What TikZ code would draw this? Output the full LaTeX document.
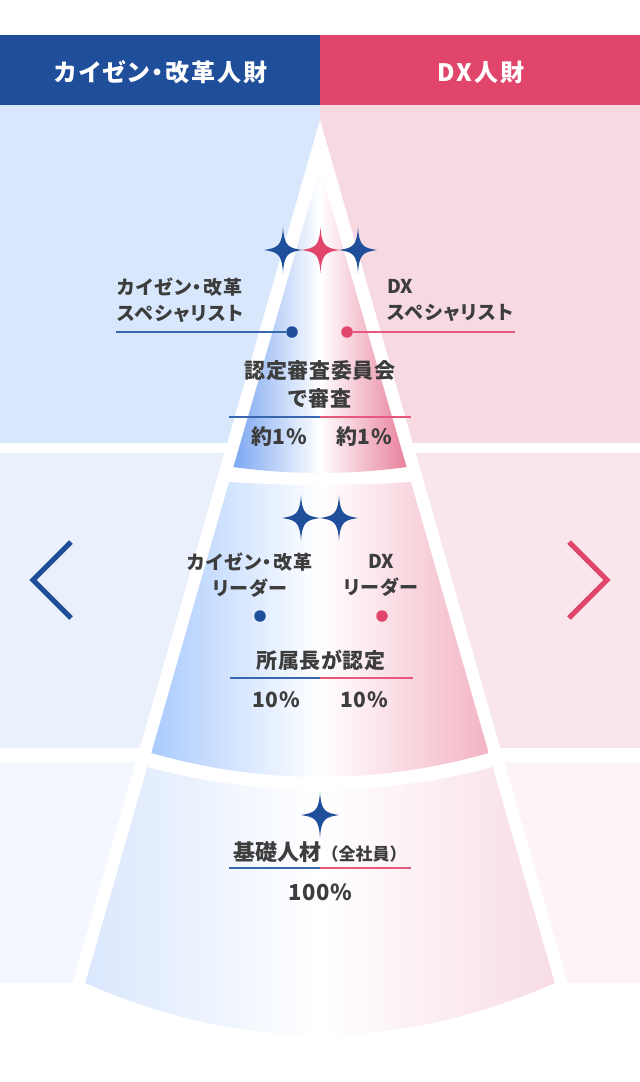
\documentclass[tikz,border=0pt]{standalone}
\usepackage{fontspec}
\newfontfamily\jph{Noto Sans CJK JP}[RawFeature=+palt, LetterSpace=8]
\newfontfamily\jpl{Noto Sans CJK JP}[RawFeature=+palt, LetterSpace=6]
\newfontfamily\jpb{Noto Sans CJK JP}[RawFeature=+palt, LetterSpace=3]
\newfontfamily\jpz{Noto Sans CJK JP}[RawFeature=+palt]
\newfontfamily\jpn{Noto Sans CJK JP}
\definecolor{hblue}{HTML}{1F4E9A}
\definecolor{hpink}{HTML}{E2456C}
\definecolor{lblue}{HTML}{3A66B0}
\definecolor{lpink}{HTML}{E8587E}
\definecolor{bgAl}{HTML}{D9E7FC}
\definecolor{bgAr}{HTML}{F7D9E1}
\definecolor{bgBl}{HTML}{EAF1FD}
\definecolor{bgBr}{HTML}{F9E6EB}
\definecolor{bgCl}{HTML}{F4F7FE}
\definecolor{bgCr}{HTML}{FCF4F6}
\definecolor{gAl}{HTML}{7CA7F2}
\definecolor{gAr}{HTML}{E8809C}
\definecolor{gBl}{HTML}{AACBFE}
\definecolor{gBr}{HTML}{F3B4C4}
\definecolor{gCl}{HTML}{DAE7FD}
\definecolor{gCr}{HTML}{F8DCE4}
\definecolor{txt}{HTML}{3D3D3D}
\tikzset{
  sparkle/.pic={
    \fill (0,-23) .. controls (1.2,-3.5) and (5.5,-2.2) .. (19,0)
      .. controls (5.5,2.2) and (1.2,3.5) .. (0,23)
      .. controls (-1.2,3.5) and (-5.5,2.2) .. (-19,0)
      .. controls (-5.5,-2.2) and (-1.2,-3.5) .. cycle;
  },
  hdr/.style={text=white, inner sep=0, font=\jph\bfseries\fontsize{24}{28}\selectfont},
  lbl/.style={text=txt, inner sep=0, font=\jpl\bfseries\fontsize{19}{26}\selectfont},
  big/.style={text=txt, inner sep=0, align=center, font=\jpb\bfseries\fontsize{21}{28}\selectfont},
  pct/.style={text=txt, inner sep=0, font=\jpb\bfseries\fontsize{21}{26}\selectfont},
  dotb/.style={circle, fill=hblue, inner sep=0, minimum size=11.5pt},
  dotp/.style={circle, fill=hpink, inner sep=0, minimum size=11.5pt},
  bl/.style={draw=lblue, line width=1.4pt},
  pl/.style={draw=lpink, line width=1.4pt},
  chev/.style={line width=5pt, line cap=butt, line join=miter},
}
\begin{document}
\begin{tikzpicture}[x=1pt,y=-1pt]
\useasboundingbox (0,0) rectangle (640,1082);
\fill[white] (0,0) rectangle (640,1082);
% tier backgrounds
\fill[bgAl] (0,105) rectangle (320,443);
\fill[bgAr] (320,105) rectangle (640,443);
\fill[bgBl] (0,453) rectangle (320,748);
\fill[bgBr] (320,453) rectangle (640,748);
\fill[bgCl] (0,762) rectangle (320,983);
\fill[bgCr] (320,762) rectangle (640,983);
% white cone
\fill[white] (320,120) -- (72.3,983) -- (567.7,983) -- cycle;
% header
\fill[hblue] (0,35) rectangle (320,105);
\fill[hpink] (320,35) rectangle (640,105);
\node[hdr] (h1) at (161,72.5) {カイゼン・改革人財};
\node[hdr] (h2) at (481,72.5) {DX人財};
% segments
\shade[left color=gAl, right color=gAr, middle color=white]
  (320,168) -- (406.6,467) .. controls (348.9,475) and (291.1,475) .. (233.4,467) -- cycle;
\shade[left color=gBl, right color=gBr, middle color=white]
  (229.1,482) .. controls (289.7,486) and (350.3,486) .. (410.9,482)
  -- (488.7,753) .. controls (376.2,785) and (263.8,785) .. (151.3,753) -- cycle;
\shade[left color=gCl, right color=gCr, middle color=white]
  (147.3,767) .. controls (262.4,797.7) and (377.6,797.7) .. (492.7,767)
  -- (554.7,983) .. controls (398.2,1052.3) and (241.8,1052.3) .. (85.3,983) -- cycle;
% sparkles
\pic[fill=hblue] at (283,250) {sparkle};
\pic[fill=hblue] at (358,250) {sparkle};
\pic[fill=hpink] at (320.5,250) {sparkle};
\pic[fill=hblue] at (301,518) {sparkle};
\pic[fill=hblue] at (339,518) {sparkle};
\pic[fill=hblue] at (320,815) {sparkle};
% top tier
\node[lbl, anchor=west, align=left] (s1) at (117,300) {カイゼン・改革\\スペシャリスト};
\node[lbl, anchor=west, align=left] (s2) at (387,300) {{\jpz DX}\\スペシャリスト};
\node[dotb] (d1) at (292,332) {};
\node[dotp] (d2) at (347,332) {};
\coordinate (e1) at (116,332);
\coordinate (e2) at (515,332);
\draw[bl] (e1) -- (d1);
\draw[pl] (d2) -- (e2);
\node[big] (c1) at (320,384) {認定審査委員会\\で審査};
\coordinate (u1l) at (229,417);
\coordinate (u1m) at (320,417);
\coordinate (u1r) at (411,417);
\draw[bl] (u1l) -- (u1m);
\draw[pl] (u1m) -- (u1r);
\node[pct] (p1) at (279,437) {約1\%};
\node[pct] (p2) at (364,437) {約1\%};
% middle tier
\node[lbl, align=center] (m1) at (250,575) {カイゼン・改革\\リーダー};
\node[lbl, align=center] (m2) at (381,575) {{\jpz DX}\\リーダー};
\node[dotb] (d3) at (260,616) {};
\node[dotp] (d4) at (382,616) {};
\node[big] (c2) at (321,660) {所属長が認定};
\coordinate (u2l) at (230,678);
\coordinate (u2m) at (320,678);
\coordinate (u2r) at (413,678);
\draw[bl] (u2l) -- (u2m);
\draw[pl] (u2m) -- (u2r);
\node[pct] (p3) at (276,700) {10\%};
\node[pct] (p4) at (364,700) {10\%};
% bottom tier
\node[text=txt, inner sep=0] (c3) at (320,852) {\jpn\bfseries\fontsize{22}{26}\selectfont 基礎人材\fontsize{17}{20}\selectfont（全社員）};
\coordinate (u3l) at (229,868);
\coordinate (u3m) at (320,868);
\coordinate (u3r) at (411,868);
\draw[bl] (u3l) -- (u3m);
\draw[pl] (u3m) -- (u3r);
\node[pct, font=\jpb\bfseries\fontsize{22}{26}\selectfont] (p5) at (320,892) {100\%};
% chevrons
\draw[chev, hblue] (71,542) -- (33,580) -- (71,618);
\draw[chev, hpink] (569,542) -- (607,580) -- (569,618);
\end{tikzpicture}
\end{document}
